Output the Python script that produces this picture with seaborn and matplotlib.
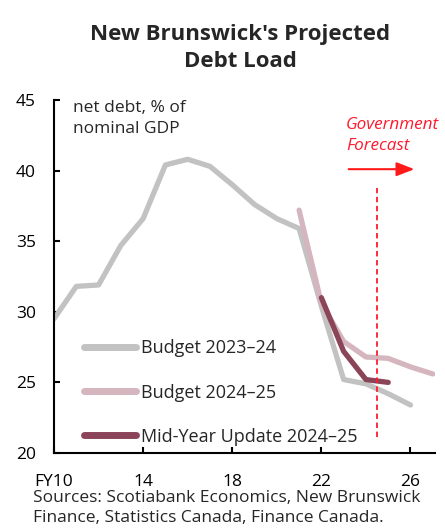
import matplotlib
matplotlib.use("Agg")
import matplotlib.pyplot as plt
import seaborn as sns
import pandas as pd

years_b23 = [10, 11, 12, 13, 14, 15, 16, 17, 18, 19, 20, 21, 22, 23, 24, 25, 26]
vals_b23 = [29.5, 31.8, 31.9, 34.7, 36.6, 40.4, 40.8, 40.3, 39.0, 37.6, 36.6, 35.9, 30.4, 25.2, 24.9, 24.2, 23.4]
years_b24 = [21, 22, 23, 24, 25, 26, 27]
vals_b24 = [37.2, 30.6, 27.9, 26.8, 26.7, 26.1, 25.6]
years_myu = [22, 23, 24, 25]
vals_myu = [31.0, 27.2, 25.2, 25.0]
series_names = ["Budget 2023–24", "Budget 2024–25", "Mid-Year Update 2024–25"]
colors = ["#c2c2c2", "#d5b6be", "#8c4459"]
xtick_vals = [10, 14, 18, 22, 26]
xtick_labels = ["FY10", "14", "18", "22", "26"]
ytick_vals = [20, 25, 30, 35, 40, 45]
forecast_x = 24.5

df = pd.concat([
    pd.DataFrame({"year": years_b23, "value": vals_b23, "series": series_names[0]}),
    pd.DataFrame({"year": years_b24, "value": vals_b24, "series": series_names[1]}),
    pd.DataFrame({"year": years_myu, "value": vals_myu, "series": series_names[2]}),
])

sns.set_theme(style="white")
FONT = "Open Sans"
plt.rcParams["font.family"] = [FONT, "DejaVu Sans"]

fig = plt.figure(figsize=(4.45, 5.29), dpi=100)
ax = fig.add_axes([54/445, 1-453/529, (435-54)/445, (453-100)/529])

sns.lineplot(data=df, x="year", y="value", hue="series", palette=dict(zip(series_names, colors)),
             linewidth=3.8, ax=ax, legend=True, solid_capstyle="round")

ax.set_xlim(10, 27.1)
ax.set_ylim(20, 45)
ax.set_xticks(xtick_vals)
ax.set_xticklabels(xtick_labels)
ax.set_yticks(ytick_vals)
ax.set_xlabel("")
ax.set_ylabel("")
for s in ["top", "right"]:
    ax.spines[s].set_visible(False)
for s in ["left", "bottom"]:
    ax.spines[s].set_color("black")
    ax.spines[s].set_linewidth(1.5)
ax.tick_params(axis="both", direction="in", length=4, width=1.5, colors="black",
               labelsize=12.5, left=True, bottom=True)
ax.tick_params(axis="y", pad=13)
ax.tick_params(axis="x", pad=15)

ax.vlines(forecast_x, 21.1, 38.8, colors="#ff1a2e", linestyles=(0, (3, 2)), linewidth=1.3)
ax.annotate("", xy=(26.3, 40.1), xytext=(23.1, 40.1),
            arrowprops=dict(arrowstyle="-|>,head_length=0.9,head_width=0.35", color="#ff1a1a", lw=1.5))
ax.text(23.1, 42.5, "Government\nForecast", color="#ff1a2e", fontstyle="italic", fontsize=12.3,
        va="center", ha="left", linespacing=1.45)
ax.text(10.85, 45.0, "net debt, % of\nnominal GDP", fontsize=12.5, va="top", ha="left", linespacing=1.4)

leg = ax.legend(loc="lower left", bbox_to_anchor=(0.06, 0.0), frameon=False, fontsize=13,
                handlelength=2.9, handletextpad=0.25, labelspacing=1.45, borderaxespad=0)
for line in leg.get_lines():
    line.set_linewidth(5)
    line.set_solid_capstyle("round")

fig.text(240/445, 1-48/529, "New Brunswick's Projected\nDebt Load", ha="center", va="center",
         fontsize=16, fontweight="bold", linespacing=1.4)
fig.text(33/445, 1-508/529, "Sources: Scotiabank Economics, New Brunswick\nFinance, Statistics Canada, Finance Canada.",
         ha="left", va="center", fontsize=12.5, linespacing=1.25)

fig.savefig("out.png", dpi=100)
